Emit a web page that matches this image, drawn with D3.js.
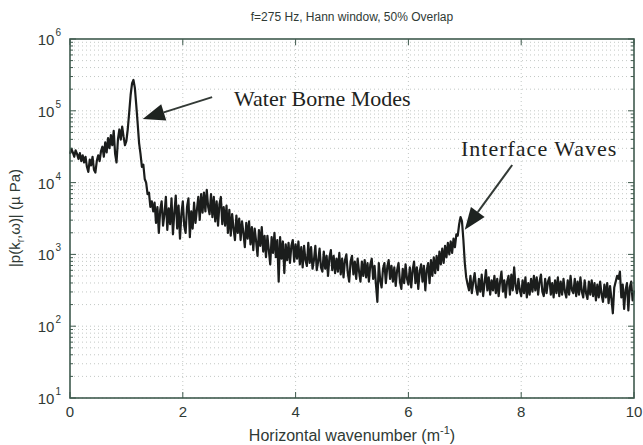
<!DOCTYPE html>
<html>
<head>
<meta charset="utf-8">
<script src="https://cdn.jsdelivr.net/npm/d3@7/dist/d3.min.js"></script>
<style>
  html, body { margin: 0; padding: 0; background: #fff; }
  svg { display: block; }
  text { font-family: "Liberation Sans", Arial, Helvetica, sans-serif; fill: #2f3a35; }
  .serif { font-family: "Liberation Serif", "Times New Roman", serif; fill: #1e2320; }
</style>
</head>
<body>
<svg id="chart" width="643" height="445"></svg>
<script>
// ---- data ----
const titleText = "f=275 Hz, Hann window, 50% Overlap";
const xTicks = [0, 2, 4, 6, 8, 10];
const yDecades = [1, 2, 3, 4, 5, 6];          // exponents of the labelled decades
const dk = 0.025;                              // wavenumber sample spacing (m^-1)
// log10 of |p(kr, w)| in µPa, one value per sample, k = 0 ... 10
const log10Amp = [
  4.40,4.47,4.42,4.36,4.45,4.40,4.33,4.41,4.30,4.38,
  4.28,4.36,4.22,4.15,4.32,4.24,4.36,4.18,4.14,4.30,
  4.38,4.30,4.44,4.50,4.36,4.56,4.42,4.62,4.48,4.66,
  4.52,4.72,4.40,4.28,4.60,4.74,4.60,4.78,4.64,4.52,
  4.58,4.75,4.98,5.22,5.38,5.43,5.32,5.08,4.82,4.55,
  4.40,4.22,4.25,4.05,4.00,3.84,3.86,3.66,3.74,3.60,
  3.72,3.44,3.66,3.30,3.62,3.74,3.40,3.56,3.80,3.34,
  3.64,3.42,3.78,3.28,3.58,3.82,3.36,3.68,3.22,3.56,
  3.74,3.40,3.30,3.66,3.78,3.24,3.60,3.36,3.72,3.44,
  3.62,3.80,3.48,3.84,3.58,3.86,3.60,3.90,3.66,3.56,
  3.84,3.52,3.80,3.46,3.74,3.40,3.70,3.80,3.42,3.66,
  3.40,3.68,3.30,3.62,3.26,3.56,3.36,3.20,3.54,3.30,
  3.50,3.20,3.46,3.30,3.10,3.44,3.22,3.46,3.14,3.38,
  3.06,3.36,3.18,2.98,3.34,3.12,3.38,3.04,3.26,2.96,
  3.26,3.06,2.86,3.24,3.02,3.30,2.96,3.20,2.62,3.24,
  2.94,3.18,2.74,3.14,2.92,3.16,2.88,3.12,3.20,2.90,
  3.14,2.94,3.18,2.86,3.10,2.82,3.12,2.92,2.84,3.16,
  2.88,3.10,2.80,2.92,3.12,2.78,2.90,3.08,2.82,2.76,
  3.04,2.80,2.98,2.70,2.96,3.06,2.78,2.98,2.74,2.94,
  2.76,3.02,2.72,2.94,2.68,2.92,3.00,2.74,2.62,2.90,
  2.98,2.72,2.90,2.66,2.94,2.76,2.62,2.90,2.70,2.92,
  2.68,2.88,2.62,2.86,2.94,2.66,2.84,2.58,2.34,2.88,
  2.64,2.54,2.80,2.88,2.60,2.82,2.92,2.66,2.84,2.62,
  2.82,2.56,2.78,2.88,2.62,2.52,2.80,2.60,2.86,2.66,
  2.58,2.82,2.54,2.78,2.90,2.60,2.82,2.52,2.76,2.86,
  2.62,2.84,2.50,2.78,2.88,2.60,2.92,2.70,2.96,2.74,
  2.98,2.78,3.04,2.86,3.08,2.88,3.12,2.96,3.16,3.00,
  3.18,3.02,3.22,3.10,3.28,3.26,3.42,3.52,3.46,3.20,
  2.88,2.68,2.58,2.50,2.70,2.46,2.62,2.74,2.54,2.44,
  2.66,2.48,2.72,2.42,2.60,2.78,2.50,2.68,2.44,2.64,
  2.50,2.70,2.46,2.66,2.42,2.62,2.76,2.48,2.64,2.40,
  2.62,2.70,2.44,2.72,2.50,2.82,2.56,2.46,2.66,2.50,
  2.42,2.64,2.46,2.68,2.40,2.60,2.44,2.66,2.48,2.70,
  2.50,2.68,2.44,2.62,2.72,2.48,2.42,2.66,2.46,2.62,
  2.68,2.44,2.60,2.40,2.64,2.46,2.68,2.42,2.62,2.44,
  2.66,2.48,2.40,2.64,2.44,2.70,2.50,2.46,2.66,2.42,
  2.62,2.44,2.68,2.48,2.40,2.64,2.46,2.38,2.62,2.44,
  2.64,2.42,2.60,2.36,2.58,2.40,2.62,2.44,2.34,2.58,
  2.40,2.60,2.32,2.56,2.38,2.18,2.54,2.62,2.70,2.66,
  2.76,2.40,2.58,2.24,2.50,2.60,2.22,2.54,2.62,2.36,
  2.50
];
const annotations = [
  { text: "Water Borne Modes", tipK: 1.29, tipV: 7.7e4, tailK: 2.52, tailV: 1.55e5, tx: 234, ty: 106, fs: 22, ls: 0 },
  { text: "Interface Waves",   tipK: 7.00, tipV: 2.2e3, tailK: 7.84, tailV: 1.76e4, tx: 461, ty: 156, fs: 22, ls: 1 }
];

// ---- layout ----
const margin = { left: 70, right: 9, top: 39, bottom: 47 };
const W = 643, H = 445;
const x = d3.scaleLinear().domain([0, 10]).range([margin.left, W - margin.right]);
const y = d3.scaleLog().domain([10, 1e6]).range([H - margin.bottom, margin.top]);

const svg = d3.select("#chart");
const data = log10Amp.map((v, i) => ({ k: i * dk, p: Math.pow(10, v) }));

// grid
const gridCol = "#c3c8c5";
const gGrid = svg.append("g");
const yMinor = [];
for (let e = 1; e < 6; e++) for (let m = 1; m <= 9; m++) yMinor.push(m * Math.pow(10, e));
gGrid.selectAll("line.hg").data(yMinor).join("line")
  .attr("x1", x(0)).attr("x2", x(10))
  .attr("y1", d => y(d)).attr("y2", d => y(d))
  .attr("stroke", gridCol).attr("stroke-width", 1)
  .attr("stroke-dasharray", "1,3");
gGrid.selectAll("line.vg").data(xTicks.slice(1, -1)).join("line")
  .attr("x1", d => x(d)).attr("x2", d => x(d))
  .attr("y1", y(10)).attr("y2", y(1e6))
  .attr("stroke", gridCol).attr("stroke-width", 1)
  .attr("stroke-dasharray", "1,3");

// curve
svg.append("path").datum(data)
  .attr("fill", "none").attr("stroke", "#1b1d1c").attr("stroke-width", 2.2)
  .attr("stroke-linejoin", "round")
  .attr("d", d3.line().x(d => x(d.k)).y(d => y(d.p)));

// frame and ticks
const axCol = "#3f5a4e";
svg.append("rect")
  .attr("x", x(0)).attr("y", y(1e6)).attr("width", x(10) - x(0)).attr("height", y(10) - y(1e6))
  .attr("fill", "none").attr("stroke", axCol).attr("stroke-width", 1.6);
const tk = svg.append("g").attr("stroke", axCol).attr("stroke-width", 1);
yMinor.concat([1e6]).forEach(v => {
  const major = Math.abs(Math.log10(v) - Math.round(Math.log10(v))) < 1e-9;
  const len = major ? 6 : 3;
  tk.append("line").attr("x1", x(0)).attr("x2", x(0) + len).attr("y1", y(v)).attr("y2", y(v));
  tk.append("line").attr("x1", x(10)).attr("x2", x(10) - len).attr("y1", y(v)).attr("y2", y(v));
});
xTicks.forEach(t => {
  tk.append("line").attr("x1", x(t)).attr("x2", x(t)).attr("y1", y(10)).attr("y2", y(10) - 6);
  tk.append("line").attr("x1", x(t)).attr("x2", x(t)).attr("y1", y(1e6)).attr("y2", y(1e6) + 6);
});

// tick labels
svg.selectAll("text.xt").data(xTicks).join("text")
  .attr("x", d => x(d)).attr("y", y(10) + 19)
  .attr("text-anchor", "middle").attr("font-size", 15).text(d => d);
yDecades.forEach(e => {
  const t = svg.append("text").attr("x", x(0) - 9).attr("y", y(Math.pow(10, e)) + 6)
    .attr("text-anchor", "end").attr("font-size", 15);
  t.append("tspan").text("10");
  t.append("tspan").attr("font-size", 10).attr("dy", -9).attr("dx", 1).text(e);
});

// titles
svg.append("text").attr("x", 352).attr("y", 21).attr("text-anchor", "middle")
  .attr("font-size", 12).text(titleText);
const xl = svg.append("text").attr("x", 352).attr("y", 441).attr("text-anchor", "middle").attr("font-size", 16);
xl.append("tspan").text("Horizontal wavenumber (m");
xl.append("tspan").attr("font-size", 11).attr("dy", -7).text("-1");
xl.append("tspan").attr("dy", 7).text(")");
const yl = svg.append("text").attr("transform", "translate(20,218) rotate(-90)")
  .attr("text-anchor", "middle").attr("font-size", 15);
yl.append("tspan").text("|p(k");
yl.append("tspan").attr("font-size", 10).attr("dy", 4).text("r");
yl.append("tspan").attr("dy", -4).text(",ω)| (µ Pa)");

// annotations
annotations.forEach(a => {
  const x1 = x(a.tailK), y1 = y(a.tailV), x2 = x(a.tipK), y2 = y(a.tipV);
  const ang = Math.atan2(y2 - y1, x2 - x1);
  const hl = 22, hw = 8.5;
  const bx = x2 - hl * Math.cos(ang), by = y2 - hl * Math.sin(ang);
  svg.append("line").attr("x1", x1).attr("y1", y1).attr("x2", bx).attr("y2", by)
    .attr("stroke", "#333a36").attr("stroke-width", 2);
  const px = -Math.sin(ang) * hw, py = Math.cos(ang) * hw;
  svg.append("path")
    .attr("d", `M${x2},${y2}L${bx + px},${by + py}L${bx - px},${by - py}Z`)
    .attr("fill", "#1e2320");
  svg.append("text").attr("class", "serif").attr("x", a.tx).attr("y", a.ty)
    .attr("font-size", a.fs).attr("letter-spacing", a.ls).text(a.text);
});
</script>
</body>
</html>
